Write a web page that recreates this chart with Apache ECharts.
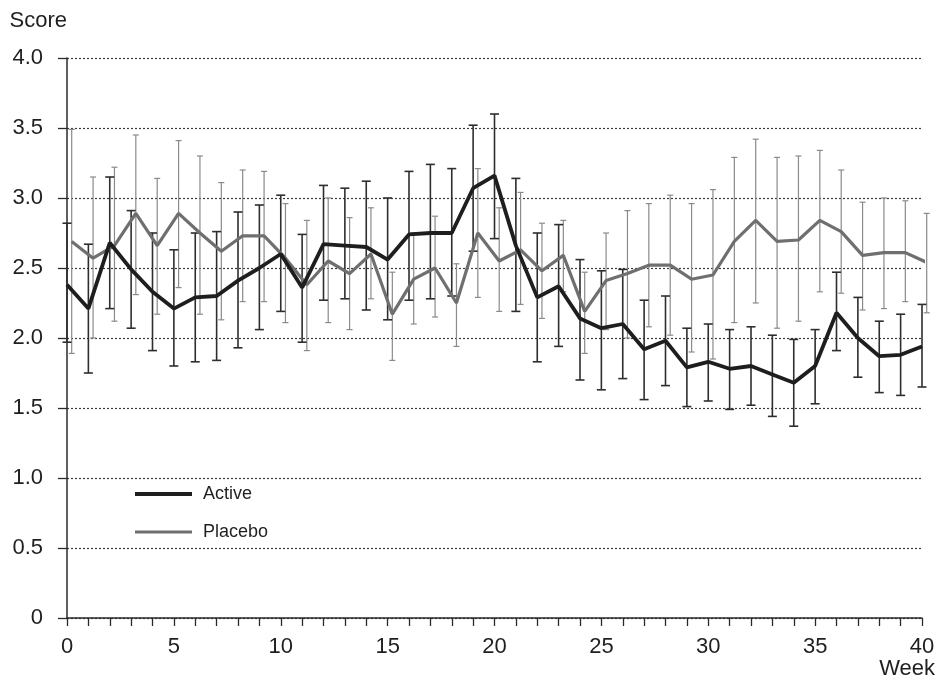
<!DOCTYPE html>
<html>
<head>
<meta charset="utf-8">
<title>Score by week</title>
<script src="https://cdn.jsdelivr.net/npm/echarts@6/dist/echarts.min.js"></script>
<style>
  html, body { margin: 0; padding: 0; background: #ffffff; }
  #chart { width: 941px; height: 681px; }
</style>
</head>
<body>
<div id="chart"></div>
<script>
// Weeks of follow-up
var weeks = [0, 1, 2, 3, 4, 5, 6, 7, 8, 9, 10, 11, 12, 13, 14, 15, 16, 17, 18, 19, 20,
             21, 22, 23, 24, 25, 26, 27, 28, 29, 30, 31, 32, 33, 34, 35, 36, 37, 38, 39, 40];

// Active group: weekly mean score with lower / upper error limits
var activeMean = [2.38, 2.21, 2.68, 2.49, 2.33, 2.21, 2.29, 2.30, 2.41, 2.50,
                  2.60, 2.36, 2.67, 2.66, 2.65, 2.56, 2.74, 2.75, 2.75, 3.07,
                  3.16, 2.66, 2.29, 2.37, 2.14, 2.07, 2.10, 1.92, 1.98, 1.79,
                  1.83, 1.78, 1.80, 1.74, 1.68, 1.80, 2.18, 2.00, 1.87, 1.88, 1.94];
var activeLow  = [1.97, 1.75, 2.21, 2.07, 1.91, 1.80, 1.83, 1.84, 1.93, 2.06,
                  2.19, 1.97, 2.27, 2.28, 2.20, 2.13, 2.27, 2.28, 2.30, 2.62,
                  2.71, 2.19, 1.83, 1.94, 1.70, 1.63, 1.71, 1.56, 1.66, 1.51,
                  1.55, 1.49, 1.52, 1.44, 1.37, 1.53, 1.91, 1.72, 1.61, 1.59, 1.65];
var activeHigh = [2.82, 2.67, 3.15, 2.91, 2.75, 2.63, 2.75, 2.76, 2.90, 2.95,
                  3.02, 2.74, 3.09, 3.07, 3.12, 3.00, 3.19, 3.24, 3.21, 3.52,
                  3.60, 3.14, 2.75, 2.81, 2.56, 2.48, 2.49, 2.27, 2.30, 2.07,
                  2.10, 2.06, 2.08, 2.02, 1.99, 2.06, 2.47, 2.29, 2.12, 2.17, 2.24];

// Placebo group: weekly mean score with lower / upper error limits
var placeboMean = [2.69, 2.57, 2.66, 2.89, 2.66, 2.89, 2.75, 2.62, 2.73, 2.73,
                   2.57, 2.38, 2.55, 2.46, 2.60, 2.17, 2.42, 2.50, 2.25, 2.75,
                   2.55, 2.63, 2.48, 2.59, 2.19, 2.41, 2.46, 2.52, 2.52, 2.42,
                   2.45, 2.69, 2.84, 2.69, 2.70, 2.84, 2.76, 2.59, 2.61, 2.61, 2.54];
var placeboLow  = [1.89, 2.00, 2.12, 2.31, 2.17, 2.36, 2.17, 2.13, 2.26, 2.26,
                   2.11, 1.91, 2.11, 2.06, 2.28, 1.84, 2.10, 2.15, 1.94, 2.29,
                   2.19, 2.24, 2.14, 2.33, 1.89, 2.06, 2.00, 2.08, 2.02, 1.90,
                   1.85, 2.11, 2.25, 2.07, 2.12, 2.33, 2.32, 2.20, 2.21, 2.26, 2.18];
var placeboHigh = [3.49, 3.15, 3.22, 3.45, 3.14, 3.41, 3.30, 3.11, 3.20, 3.19,
                   2.96, 2.84, 3.00, 2.86, 2.93, 2.47, 2.75, 2.87, 2.53, 3.21,
                   2.93, 3.04, 2.82, 2.84, 2.47, 2.75, 2.91, 2.96, 3.02, 2.96,
                   3.06, 3.29, 3.42, 3.29, 3.30, 3.34, 3.20, 2.97, 3.00, 2.98, 2.89];

// Y-axis tick values
var scoreTicks = [0, 0.5, 1.0, 1.5, 2.0, 2.5, 3.0, 3.5, 4.0];

// Placebo points are nudged slightly right so the two sets of bars do not overlap
var placeboShift = 0.22;

var FONT = '"Liberation Sans", Arial, Helvetica, sans-serif';
var TEXT = '#1f1f1f';

function lineData(mean, shift) {
  return weeks.map(function (w, i) { return [w + shift, mean[i]]; });
}

function errorSeries(name, low, high, shift, color, width, cap, z) {
  return {
    type: 'custom',
    name: name + ' error',
    silent: true,
    z: z,
    encode: { x: 0, y: [1, 2] },
    data: weeks.map(function (w, i) { return [w + shift, low[i], high[i]]; }),
    renderItem: function (params, api) {
      var x = api.value(0);
      var lo = api.coord([x, api.value(1)]);
      var hi = api.coord([x, api.value(2)]);
      var style = { stroke: color, lineWidth: width };
      return {
        type: 'group',
        children: [
          { type: 'line', shape: { x1: lo[0], y1: lo[1], x2: hi[0], y2: hi[1] }, style: style },
          { type: 'line', shape: { x1: hi[0] - cap / 2, y1: hi[1], x2: hi[0] + cap / 2, y2: hi[1] }, style: style },
          { type: 'line', shape: { x1: lo[0] - cap / 2, y1: lo[1], x2: lo[0] + cap / 2, y2: lo[1] }, style: style }
        ]
      };
    }
  };
}

var chart = echarts.init(document.getElementById('chart'), null, { renderer: 'canvas' });

var legendBase = {
  left: 130,
  orient: 'horizontal',
  icon: 'rect',
  itemWidth: 57,
  itemHeight: 4,
  selectedMode: false,
  textStyle: { fontFamily: FONT, fontSize: 18, color: TEXT, padding: [0, 0, 0, 6] }
};

chart.setOption({
  animation: false,
  backgroundColor: '#ffffff',
  grid: { left: 67, right: 19, top: 58, bottom: 63, containLabel: false },
  legend: [
    Object.assign({}, legendBase, { top: 480, data: ['Active'] }),
    Object.assign({}, legendBase, { top: 518, itemHeight: 3, data: ['Placebo'] })
  ],
  xAxis: {
    type: 'value',
    min: 0,
    max: 40,
    interval: 5,
    name: 'Week',
    nameLocation: 'end',
    nameGap: 13,
    nameTextStyle: { fontFamily: FONT, fontSize: 22, color: TEXT, align: 'right', verticalAlign: 'top', padding: [40, 0, 0, 0] },
    axisLine: { show: true, onZero: false, lineStyle: { color: '#2a2a2a', width: 1.5 } },
    axisTick: { show: true, inside: false, length: 8, lineStyle: { color: '#2a2a2a', width: 1.3 } },
    minorTick: { show: true, splitNumber: 5, length: 8, lineStyle: { color: '#2a2a2a', width: 1.3 } },
    axisLabel: { margin: 18, fontFamily: FONT, fontSize: 22, color: TEXT },
    splitLine: { show: false },
    minorSplitLine: { show: false }
  },
  yAxis: {
    type: 'value',
    min: scoreTicks[0],
    max: scoreTicks[scoreTicks.length - 1],
    interval: 0.5,
    name: 'Score',
    nameLocation: 'end',
    nameGap: 26,
    nameTextStyle: { fontFamily: FONT, fontSize: 22, color: TEXT, align: 'right', padding: [0, 0, 0, 0] },
    axisLine: { show: true, lineStyle: { color: '#2a2a2a', width: 1.5 } },
    axisTick: { show: true, inside: false, length: 9, lineStyle: { color: '#2a2a2a', width: 1.3 } },
    axisLabel: {
      margin: 24,
      fontFamily: FONT,
      fontSize: 22,
      color: TEXT,
      formatter: function (v) { return v === 0 ? '0' : v.toFixed(1); }
    },
    splitLine: { show: true, lineStyle: { color: '#3a3a3a', width: 1.2, type: [2, 2] } }
  },
  series: [
    errorSeries('Placebo', placeboLow, placeboHigh, placeboShift, '#8a8a8a', 1.2, 6, 2),
    errorSeries('Active', activeLow, activeHigh, 0, '#2e2e2e', 1.6, 9, 3),
    {
      type: 'line',
      name: 'Placebo',
      z: 4,
      data: lineData(placeboMean, placeboShift),
      symbol: 'none',
      color: '#6f6f6f',
      itemStyle: { color: '#6f6f6f' },
      lineStyle: { color: '#6f6f6f', width: 3.2 }
    },
    {
      type: 'line',
      name: 'Active',
      z: 5,
      data: lineData(activeMean, 0),
      symbol: 'none',
      color: '#1e1e1e',
      itemStyle: { color: '#1e1e1e' },
      lineStyle: { color: '#1e1e1e', width: 3.8 }
    }
  ]
});
</script>
</body>
</html>
